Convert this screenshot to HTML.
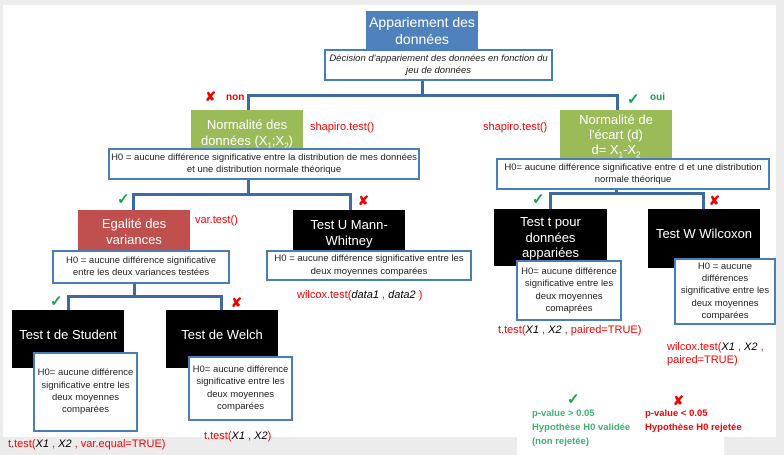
<!DOCTYPE html>
<html><head><meta charset="utf-8"><style>
body{margin:0;width:784px;height:455px;background:#ececec;position:relative;overflow:hidden;font-family:"Liberation Sans",sans-serif}
div{position:absolute;box-sizing:border-box}
.bg{background:#fff}
.hdr{display:flex;align-items:center;justify-content:center;text-align:center;color:#fff;line-height:1.2}
.blue{background:#4f81bd}.green{background:#9bbb59}.redb{background:#c0504d}.blk{background:#000}
.box{background:#fff;border:2px solid #4a7ebb;display:flex;align-items:center;justify-content:center;text-align:center;font-size:9.5px;color:#222;line-height:1.3}
.ln{background:#3d6aa3}
.r{color:#f00;font-size:11px;white-space:nowrap}
.ck{color:#1aa34a;font-size:15px;font-weight:bold}
.x{color:#e00;font-size:13px;font-weight:bold}
sub{font-size:8px;line-height:0}
</style></head><body>
<div class="bg" style="left:3px;top:5px;width:773px;height:432px"></div>
<div class="bg" style="left:517px;top:380px;width:207px;height:75px"></div>

<div class="ln" style="left:421px;top:80px;width:3px;height:16px"></div>
<div class="ln" style="left:247px;top:94px;width:372px;height:3px"></div>
<div class="ln" style="left:247px;top:94px;width:3px;height:16px"></div>
<div class="ln" style="left:616px;top:94px;width:3px;height:16px"></div>
<div class="ln" style="left:247px;top:178px;width:3px;height:17px"></div>
<div class="ln" style="left:132px;top:193px;width:220px;height:3px"></div>
<div class="ln" style="left:132px;top:193px;width:3px;height:17px"></div>
<div class="ln" style="left:349px;top:193px;width:3px;height:17px"></div>
<div class="ln" style="left:133px;top:282px;width:3px;height:14px"></div>
<div class="ln" style="left:67px;top:295px;width:156px;height:3px"></div>
<div class="ln" style="left:67px;top:295px;width:3px;height:15px"></div>
<div class="ln" style="left:220px;top:295px;width:3px;height:15px"></div>
<div class="ln" style="left:615px;top:188px;width:3px;height:6px"></div>
<div class="ln" style="left:549px;top:192px;width:156px;height:3px"></div>
<div class="ln" style="left:549px;top:192px;width:3px;height:17px"></div>
<div class="ln" style="left:702px;top:192px;width:3px;height:17px"></div>

<div class="hdr blue" style="left:366px;top:11px;width:112px;height:40px;font-size:14px"><span>Appariement des données</span></div>
<div class="box" style="left:324px;top:49px;width:229px;height:32px;font-style:italic;font-size:9.5px"><span>Décision d'appariement des données en fonction du jeu de données</span></div>

<div class="x" style="left:205px;top:89px">✘</div>
<div style="left:226px;top:92px;color:#e00;font-size:10px;font-weight:bold">non</div>
<div class="ck" style="left:627px;top:90px">✓</div>
<div style="left:650px;top:92px;color:#1aa34a;font-size:10px;font-weight:bold">oui</div>

<div class="hdr green" style="left:191px;top:110px;width:112px;height:46px;font-size:13px"><span>Normalité des<br>données (X<sub>1</sub>;X<sub>2</sub>)</span></div>
<div class="r" style="left:310px;top:121px">shapiro.test()</div>
<div class="box" style="left:108px;top:148px;width:312px;height:32px"><span>H0 = aucune différence significative entre la distribution de mes données et une distribution normale théorique</span></div>

<div class="hdr green" style="left:560px;top:110px;width:112px;height:52px;font-size:13px;line-height:1.15;align-items:flex-start;padding-top:3px"><span>Normalité de<br>l'écart (d)<br>d= X<sub>1</sub>-X<sub>2</sub></span></div>
<div class="r" style="left:483px;top:121px">shapiro.test()</div>
<div class="box" style="left:496px;top:158px;width:274px;height:32px"><span>H0= aucune différence significative entre d et une distribution normale théorique</span></div>

<div class="ck" style="left:117px;top:190px">✓</div>
<div class="x" style="left:358px;top:193px">✘</div>
<div class="hdr redb" style="left:78px;top:210px;width:112px;height:43px;font-size:13px"><span>Egalité des variances</span></div>
<div class="r" style="left:195px;top:214px">var.test()</div>
<div class="box" style="left:52px;top:250px;width:178px;height:34px"><span>H0 = aucune différence significative entre les deux variances testées</span></div>

<div class="hdr blk" style="left:293px;top:210px;width:112px;height:45px;font-size:13px"><span>Test U Mann-Whitney</span></div>
<div class="box" style="left:266px;top:250px;width:206px;height:31px"><span>H0 = aucune différence significative entre les deux moyennes comparées</span></div>
<div class="r" style="left:297px;top:289px">wilcox.test(<i style="color:#000">data1</i> , <i style="color:#000">data2</i> )</div>

<div class="ck" style="left:50px;top:292px">✓</div>
<div class="x" style="left:231px;top:295px">✘</div>
<div class="hdr blk" style="left:12px;top:310px;width:112px;height:58px;font-size:13px;padding-bottom:8px"><span>Test t de Student</span></div>
<div class="box" style="left:33px;top:352px;width:105px;height:80px"><span>H0= aucune différence significative entre les deux moyennes comparées</span></div>
<div class="hdr blk" style="left:166px;top:310px;width:112px;height:58px;font-size:13px;padding-bottom:8px"><span>Test de Welch</span></div>
<div class="box" style="left:188px;top:356px;width:105px;height:65px"><span>H0= aucune différence significative entre les deux moyennes comparées</span></div>
<div class="r" style="left:8px;top:438px">t.test(<i style="color:#000">X1</i> , <i style="color:#000">X2</i> , var.equal=TRUE)</div>
<div class="r" style="left:204px;top:430px">t.test(<i style="color:#000">X1</i> , <i style="color:#000">X2</i>)</div>

<div class="ck" style="left:532px;top:190px">✓</div>
<div class="x" style="left:709px;top:193px">✘</div>
<div class="hdr blk" style="left:494px;top:209px;width:113px;height:57px;font-size:13px"><span>Test t pour<br>données<br>appariées</span></div>
<div class="box" style="left:516px;top:260px;width:106px;height:61px"><span>H0= aucune différence significative entre les deux moyennes comaprées</span></div>
<div class="r" style="left:498px;top:324px">t.test(<i style="color:#000">X1</i> , <i style="color:#000">X2</i> , paired=TRUE)</div>
<div class="hdr blk" style="left:648px;top:209px;width:112px;height:59px;font-size:13px;padding-bottom:10px"><span>Test W Wilcoxon</span></div>
<div class="box" style="left:674px;top:258px;width:102px;height:67px"><span>H0 = aucune différences significative entre les deux moyennes comparées</span></div>
<div class="r" style="left:667px;top:341px;line-height:1.2">wilcox.test(<i style="color:#000">X1</i> , <i style="color:#000">X2</i> ,<br>paired=TRUE)</div>

<div class="ck" style="left:567px;top:390px">✓</div>
<div style="left:532px;top:407px;color:#3cb371;font-size:9.5px;font-weight:bold;line-height:14px">p-value &gt; 0.05<br>Hypothèse H0 validée<br>(non rejetée)</div>
<div class="x" style="left:673px;top:393px">✘</div>
<div style="left:645px;top:407px;color:#f00;font-size:9.5px;font-weight:bold;line-height:14px">p-value &lt; 0.05<br>Hypothèse H0 rejetée</div>
</body></html>
